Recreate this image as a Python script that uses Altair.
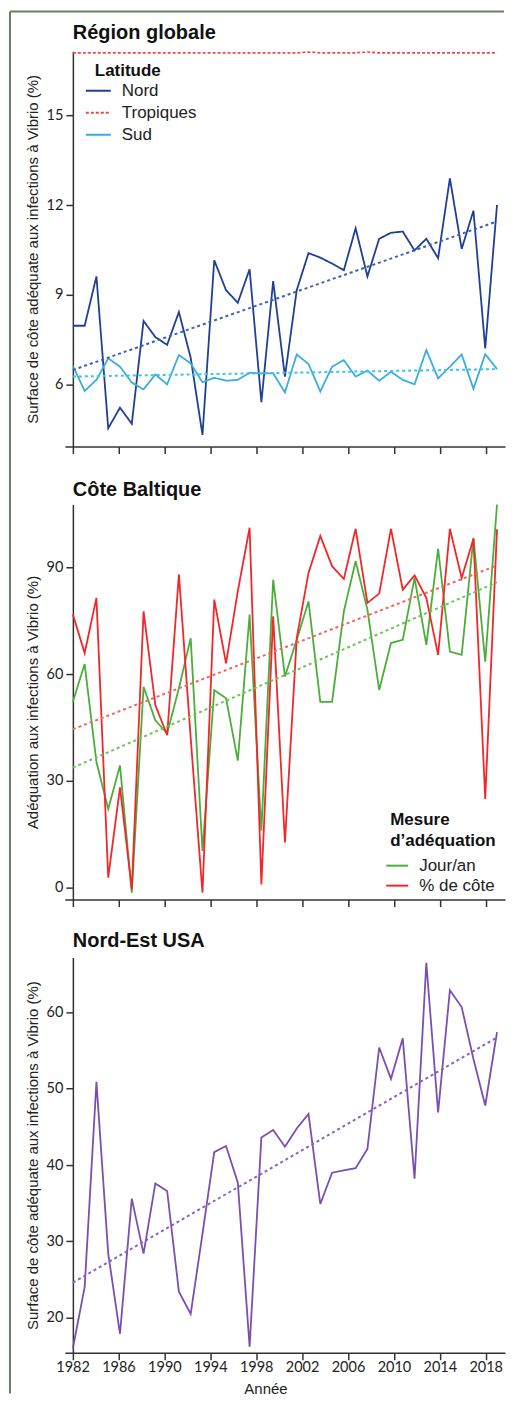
import altair as alt
import pandas as pd

# ---------------- data ----------------
years = list(range(1982, 2019))
axis_years = [1982, 1986, 1990, 1994, 1998, 2002, 2006, 2010, 2014, 2018]

lat_names = ["Nord", "Tropiques", "Sud"]
nord = [7.97, 7.97, 9.62, 4.54, 5.23, 4.69, 8.13, 7.59, 7.33, 8.43, 6.9, 4.32,
        10.16, 9.16, 8.74, 9.86, 5.41, 9.46, 6.27, 9.16, 10.4, 10.25, 10.05, 9.83,
        11.23, 9.62, 10.88, 11.08, 11.12, 10.49, 10.88, 10.23, 12.9, 10.54, 11.82,
        7.21, 12.01]
tropiques = [17.1] * 20 + [17.13] + [17.1] * 4 + [17.13] + [17.1] * 11
sud = [6.63, 5.79, 6.16, 6.88, 6.6, 6.07, 5.84, 6.34, 6.01, 6.99, 6.71, 6.08,
       6.23, 6.13, 6.16, 6.4, 6.38, 6.38, 5.74, 7.01, 6.69, 5.77, 6.6, 6.82,
       6.27, 6.47, 6.13, 6.43, 6.16, 6.01, 7.16, 6.21, 6.6, 7.01, 5.86, 7.02, 6.52]
trend_years = [1982, 2018]
nord_trend = [6.49, 11.46]
sud_trend = [6.27, 6.52]

mes_names = ["Jour/an", "% de côte"]
jour_an = [52.2, 62.8, 35.3, 22.1, 34.3, -1.4, 56.4, 47.0, 43.3, 56.0, 70.1, 10.3,
           55.5, 53.2, 35.7, 76.7, 16.0, 86.5, 59.3, 69.6, 80.4, 52.2, 52.2, 77.6,
           91.7, 78.1, 55.5, 68.7, 69.6, 87.0, 68.2, 95.2, 66.3, 65.4, 98.3, 63.5, 107.7]
pct_cote = [76.7, 65.9, 81.4, 2.8, 28.2, -0.5, 77.6, 51.3, 42.8, 88.0, 42.0, -1.4,
            80.9, 63.0, 83.3, 101.1, 0.9, 76.2, 12.7, 70.1, 88.4, 98.8, 90.3, 86.7,
            100.8, 80.0, 82.6, 100.8, 83.7, 87.7, 81.4, 65.4, 100.8, 87.0, 98.0, 24.9, 100.7]
jour_trend = [33.7, 85.8]
pct_trend = [44.5, 90.5]

usa = [16.0, 24.0, 50.9, 28.4, 17.9, 35.6, 28.4, 37.6, 36.6, 23.4, 20.5, 31.0,
       41.7, 42.5, 37.7, 16.2, 43.6, 44.6, 42.4, 44.8, 46.7, 34.9, 39.0, 39.3,
       39.6, 42.1, 55.4, 51.3, 56.6, 38.2, 66.5, 46.9, 62.9, 60.7, 53.9, 47.8, 57.4]
usa_trend = [24.6, 56.7]

panel_titles = ["Région globale", "Côte Baltique", "Nord-Est USA"]

# ---------------- tables ----------------
df1 = pd.DataFrame({
    "Année": years * 3,
    "Latitude": ["Nord"] * len(years) + ["Tropiques"] * len(years) + ["Sud"] * len(years),
    "v": nord + tropiques + sud,
})
df2 = pd.DataFrame({
    "Année": years * 2,
    "Mesure": ["Jour/an"] * len(years) + ["% de côte"] * len(years),
    "v": jour_an + pct_cote,
})
df3 = pd.DataFrame({"Année": years, "v": usa})


def trend_df(vals):
    return pd.DataFrame({"Année": trend_years, "v": vals})


ticks_df = pd.DataFrame({"t": axis_years})
one_row = pd.DataFrame({"a": [0]})

W, H = 441, 396
FONT = "Liberation Sans"
BORDER = "#6f7e66"
YTITLE = "Surface de côte adéquate aux infections à Vibrio (%)"

x_data = alt.X("Année:Q", scale=alt.Scale(domain=[1981.322, 2018.678], nice=False, zero=False), axis=None)


def axis_layer(show_labels):
    kw = dict(values=axis_years, tickSize=7, format="d", labelPadding=1)
    if show_labels:
        kw.update(title="Année", titleX=201, titleY=41, titleBaseline="alphabetic",
                  titleAlign="center", titleAnchor="start")
    else:
        kw.update(labels=False, title="")
    return alt.Chart(ticks_df).mark_tick(opacity=0).encode(
        x=alt.X("t:Q", scale=alt.Scale(domain=[1981.33, 2019.68], nice=False, zero=False),
                axis=alt.Axis(orient="bottom", **kw))
    )


def y_enc(domain, values, title):
    return alt.Y("v:Q", scale=alt.Scale(domain=domain, nice=False, zero=False),
                 axis=alt.Axis(values=values, offset=-8, tickSize=7, labelPadding=3,
                               titlePadding=6, title=title))


def title_layer(text, dy):
    return alt.Chart(one_row).mark_text(
        align="left", baseline="alphabetic", font=FONT, fontSize=20,
        fontWeight="bold", color="#111"
    ).encode(x=alt.value(8), y=alt.value(dy), text=alt.value(text))


def legend(title, lx, ly, sym_off, size, rowpad, tpad):
    return alt.Legend(orient="none", legendX=lx, legendY=ly, title=title,
                      titleFont=FONT, titleFontSize=17, titleFontWeight="bold",
                      titleColor="#111", titleLineHeight=21, titlePadding=tpad,
                      labelFont=FONT, labelFontSize=17, labelColor="#222",
                      symbolType="stroke", symbolSize=size, symbolStrokeWidth=2,
                      symbolOffset=sym_off, labelOffset=10, padding=0,
                      rowPadding=rowpad)


# ---------------- panel 1 ----------------
y1 = y_enc([3.93, 17.15], [6, 9, 12, 15], YTITLE)
leg1 = legend("Latitude", 30, 12, -10, 625, -5.5, -3)
lines1 = alt.Chart(df1).mark_line(strokeWidth=1.8, clip=True).encode(
    x=x_data, y=y1,
    color=alt.Color("Latitude:N", scale=alt.Scale(domain=lat_names,
                    range=["#1f3f94", "#f2474a", "#3aaed8"]), legend=leg1),
    strokeDash=alt.StrokeDash("Latitude:N", scale=alt.Scale(domain=lat_names,
                              range=[[1, 0], [3, 2], [1, 0]]), legend=leg1),
)
tn = alt.Chart(trend_df(nord_trend)).mark_line(color="#3d5fb5", strokeWidth=2, strokeDash=[3, 3]).encode(x=x_data, y=y1)
ts = alt.Chart(trend_df(sud_trend)).mark_line(color="#3cc3e8", strokeWidth=2, strokeDash=[3, 3]).encode(x=x_data, y=y1)
border_left = alt.Chart(one_row).mark_rule(color=BORDER, strokeWidth=2).encode(
    x=alt.value(-55), y=alt.value(-40), y2=alt.value(1345))
border_top = alt.Chart(one_row).mark_rule(color=BORDER, strokeWidth=2).encode(
    x=alt.value(-55), x2=alt.value(440), y=alt.value(-40))

p1 = alt.layer(axis_layer(False), lines1, tn, ts, title_layer(panel_titles[0], -12),
               border_left, border_top).resolve_scale(x="independent").properties(width=W, height=H)

# ---------------- panel 2 ----------------
y2 = y_enc([-3.36, 107.66], [0, 30, 60, 90], "Adéquation aux infections à Vibrio (%)")
leg2 = legend(["Mesure", "d’adéquation"], 326, 308, -5, 484, -8, 4)
lines2 = alt.Chart(df2).mark_line(strokeWidth=1.8, clip=True).encode(
    x=x_data, y=y2,
    color=alt.Color("Mesure:N", scale=alt.Scale(domain=mes_names,
                    range=["#4cae3a", "#f0282a"]), legend=leg2),
)
tj = alt.Chart(trend_df(jour_trend)).mark_line(color="#6cc45a", strokeWidth=2, strokeDash=[3, 3]).encode(x=x_data, y=y2)
tp = alt.Chart(trend_df(pct_trend)).mark_line(color="#f46464", strokeWidth=2, strokeDash=[3, 3]).encode(x=x_data, y=y2)

p2 = alt.layer(axis_layer(False), lines2, tj, tp, title_layer(panel_titles[1], -8)).resolve_scale(
    x="independent").properties(width=W, height=H)

# ---------------- panel 3 ----------------
y3 = y_enc([15.42, 67.19], [20, 30, 40, 50, 60], YTITLE)
lines3 = alt.Chart(df3).mark_line(strokeWidth=1.8, clip=True, color="#7a4fb2").encode(x=x_data, y=y3)
tu = alt.Chart(trend_df(usa_trend)).mark_line(color="#8a62c4", strokeWidth=2, strokeDash=[3, 3]).encode(x=x_data, y=y3)

p3 = alt.layer(axis_layer(True), lines3, tu, title_layer(panel_titles[2], -11)).resolve_scale(
    x="independent").properties(width=W, height=H)

chart = alt.vconcat(p1, p2, p3, spacing=58, bounds="flush").resolve_scale(
    color="independent", strokeDash="independent"
).properties(
    padding=0
).configure_view(stroke="transparent").configure_axis(
    domainColor="#333", domainWidth=1.5, tickColor="#333", tickWidth=1.5, grid=False,
    labelFont="Lato", labelFontSize=14.5, labelColor="#222",
    titleFont=FONT, titleFontSize=15, titleFontWeight="normal", titleColor="#222",
)

chart.save("out.html", embed_options={"renderer": "svg", "actions": False})
